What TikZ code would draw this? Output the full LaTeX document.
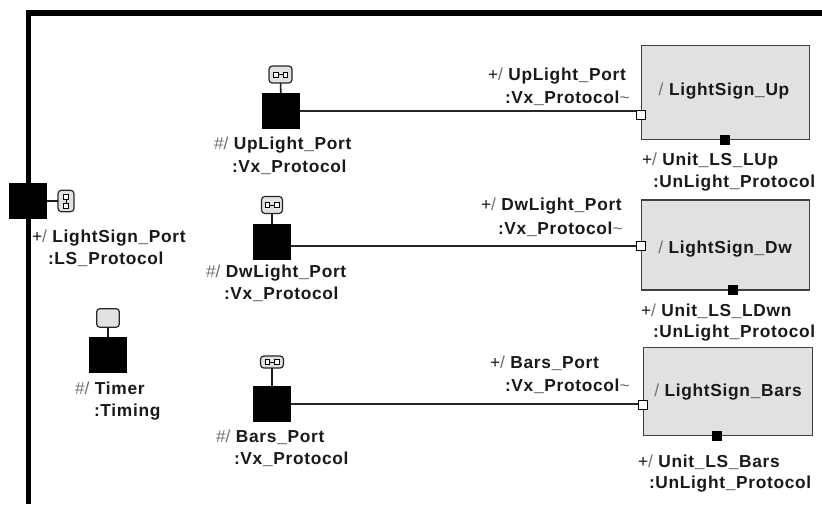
\documentclass[tikz,border=0pt]{standalone}
\usepackage{fontspec}
\setmainfont{Liberation Sans}[LetterSpace=4]
\definecolor{capgray}{HTML}{E0E2E0}
\definecolor{slashgray}{HTML}{707070}
\newcommand{\myslash}{\textcolor{slashgray}{\fontseries{m}\selectfont /}}
\newcommand{\myhash}{\textcolor{slashgray}{\fontseries{m}\selectfont \#}\myslash}
\newcommand{\myplus}{{\fontseries{m}\selectfont +}\myslash}
\tikzset{
  x=0.75pt,y=-0.75pt,
  frame/.style={line width=4.2pt,line cap=butt},
  blackport/.style={draw=none,fill=black,minimum width=28.5pt,minimum height=27pt,inner sep=0pt,outer sep=0pt},
  icon/.style={draw=black!85,fill=capgray,line width=0.9pt,rounded corners=2.5pt,inner sep=0pt,outer sep=0pt},
  capsule/.style={draw=black!85,line width=0.9pt,rounded corners=2.5pt,fill=capgray,inner sep=0pt,outer sep=0pt},
  part/.style={draw=black!75,fill=capgray,line width=0.9pt,inner sep=0pt,outer sep=0pt,minimum width=126.5pt},
  whiteport/.style={draw=black,fill=white,line width=0.7pt,minimum size=7pt,inner sep=0pt,outer sep=0pt},
  unitport/.style={fill=black,draw=none,minimum size=8pt,inner sep=0pt,outer sep=0pt},
  wire/.style={draw=black!85,line width=1pt},
  stem/.style={draw=black!90,line width=1.2pt},
  lbl/.style={font=\bfseries\fontsize{13pt}{15pt}\selectfont,anchor=west,inner sep=0pt,outer sep=0pt,text=black!90,yshift=-1pt},
}
\newcommand{\mico}[5]{% name, x, y, w, h : capsule with small link glyph, horizontal
  \node[icon,minimum width=#4*0.75pt,minimum height=#5*0.75pt] (#1) at (#2,#3) {};
  \draw[black,line width=0.6pt,fill=white] (#2-7,#3-2.5) rectangle (#2-2.5,#3+2.5) (#2+2.5,#3-2.5) rectangle (#2+7,#3+2.5);
  \draw[black,line width=0.6pt] (#2-2.5,#3) -- (#2+2.5,#3);
}
\begin{document}
\begin{tikzpicture}
\useasboundingbox (0,0) rectangle (822,504);
\coordinate (ftl) at (28.5,13);
\coordinate (ftr) at (822,13);
\coordinate (fbl) at (28.5,504);
\draw[frame,line join=miter] (ftr) -- (ftl) -- (fbl);

% outer port
\node[blackport] (lsp) at (28,201) {};
\node[icon,minimum width=12pt,minimum height=16pt] (lspi) at (66,201) {};
\draw[black,line width=0.6pt,fill=white] (63.5,194) rectangle (68.5,199) (63.5,203) rectangle (68.5,208);
\draw[black,line width=0.6pt] (66,199) -- (66,203);
\draw[stem] (lsp) -- (lspi);
\node[lbl] at (32,237) {\myplus\ LightSign\_Port};
\node[lbl] at (48,258) {:LS\_Protocol};

% inner ports
\node[blackport] (up) at (281,111) {};
\mico{upi}{280.5}{74.5}{23}{17}
\draw[stem] (upi) -- (up);
\node[lbl] at (214,144) {\myhash\ UpLight\_Port};
\node[lbl] at (232,166) {:Vx\_Protocol};

\node[blackport] (dw) at (272,242) {};
\mico{dwi}{272}{205}{21}{17}
\draw[stem] (dwi) -- (dw);
\node[lbl] at (206,272) {\myhash\ DwLight\_Port};
\node[lbl] at (224,293) {:Vx\_Protocol};

\node[blackport] (bp) at (272,404) {};
\mico{bpi}{272}{362}{23}{12}
\draw[stem,line width=0.9pt] (bpi) -- (bp);
\node[lbl] at (216,436) {\myhash\ Bars\_Port};
\node[lbl] at (234,458) {:Vx\_Protocol};

\node[blackport] (tm) at (108,355) {};
\node[capsule,minimum width=17pt,minimum height=14pt] (tmi) at (108,318) {};
\draw[stem] (tmi) -- (tm);
\node[lbl] at (75,387) {\myhash\ Timer};
\node[lbl] at (94,411) {:Timing};

% parts
\node[part,minimum height=71pt] (pu) at (725.5,92.5) {};
\node[part,minimum height=67.5pt] (pd) at (725.5,245) {};
\node[part,minimum height=66.5pt] (pb) at (728,391.5) {};
\node[lbl,anchor=center] at (724,90) {\myslash\ LightSign\_Up};
\node[lbl,anchor=center] at (725,248) {\myslash\ LightSign\_Dw};
\node[lbl,anchor=center] at (728,391) {\myslash\ LightSign\_Bars};

\node[whiteport] (wu) at (641,115) {};
\node[whiteport] (wd) at (641,246) {};
\node[whiteport] (wb) at (643,405) {};
\node[unitport] (uu) at (725,140) {};
\node[unitport] (ud) at (733,290) {};
\node[unitport] (ub) at (717,436) {};

\draw[wire] (up.east) -- (up.east-|wu.west);
\draw[wire] (wd.west) -- (wd.west-|dw.east);
\draw[wire] (bp.east) -- (bp.east-|wb.west);

\node[lbl] at (488,75) {\myplus\ UpLight\_Port};
\node[lbl] at (505,97) {:Vx\_Protocol\textcolor{slashgray}{\fontseries{m}\selectfont \textasciitilde}};
\node[lbl] at (481,205) {\myplus\ DwLight\_Port};
\node[lbl] at (498,228) {:Vx\_Protocol\textcolor{slashgray}{\fontseries{m}\selectfont \textasciitilde}};
\node[lbl] at (490,362) {\myplus\ Bars\_Port};
\node[lbl] at (505,385) {:Vx\_Protocol\textcolor{slashgray}{\fontseries{m}\selectfont \textasciitilde}};

\node[lbl] at (642,160) {\myplus\ Unit\_LS\_LUp};
\node[lbl] at (653,182) {:UnLight\_Protocol};
\node[lbl] at (641,310) {\myplus\ Unit\_LS\_LDwn};
\node[lbl] at (653,332) {:UnLight\_Protocol};
\node[lbl] at (638,461) {\myplus\ Unit\_LS\_Bars};
\node[lbl] at (649,483) {:UnLight\_Protocol};
\end{tikzpicture}
\end{document}
